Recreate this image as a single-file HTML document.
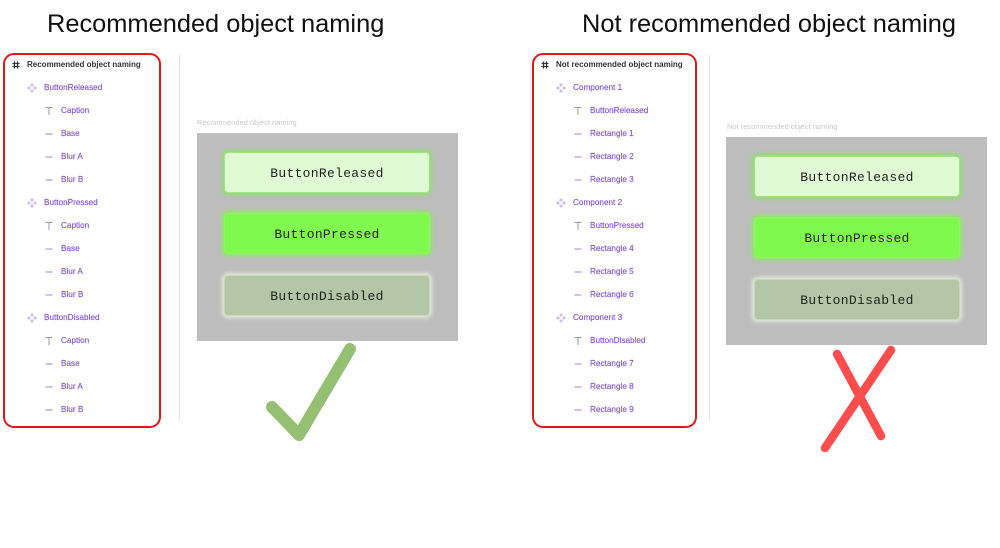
<!DOCTYPE html>
<html><head><meta charset="utf-8">
<style>
html,body{margin:0;padding:0;background:#fff;}
body{width:1000px;height:548px;position:relative;overflow:hidden;font-family:"Liberation Sans",Arial,sans-serif;}
.abs{position:absolute;}
.title{position:absolute;top:7px;font-size:25.4px;color:#111;white-space:nowrap;line-height:34px;}
.panel{position:absolute;border:2.5px solid #e0181b;border-radius:11px;box-sizing:border-box;}
.vline{position:absolute;width:1px;background:#e4e4e4;}
.row{position:absolute;height:12px;line-height:12px;font-size:8.2px;color:#8455d6;white-space:nowrap;-webkit-text-stroke:0.15px #8455d6;}
.hdr{color:#333;font-weight:bold;font-size:8px;-webkit-text-stroke:0;}
.ic{position:absolute;}
.flabel{position:absolute;font-size:7.5px;color:#c8c8c8;white-space:nowrap;}
.frame{position:absolute;background:#bdbdbd;}
.btn{position:absolute;width:206px;height:41px;border-radius:4px;box-sizing:border-box;font-family:"Liberation Mono","DejaVu Sans Mono",monospace;font-size:13px;color:#222;text-align:center;line-height:41px;letter-spacing:0.3px;}
.rel{background:#e0fbd4;border:1.5px solid #9fe87e;box-shadow:0 0 4px 2px rgba(130,235,90,0.75);}
.pre{background:#80f94e;border:1.5px solid #8ff566;box-shadow:0 0 4px 2px rgba(130,245,80,0.8);}
.dis{background:#b3c6a6;border:1.5px solid #c9d8bd;box-shadow:0 0 4px 2px rgba(235,245,225,0.85);}
</style></head><body>

<div class="title" style="left:47px;">Recommended object naming</div>
<div class="title" style="left:582px;">Not recommended object naming</div>

<!-- Left panel -->
<div class="panel" style="left:3px;top:53px;width:158px;height:375px;"></div>
<div class="vline" style="left:179px;top:55px;height:366px;"></div>

<!-- Right panel -->
<div class="panel" style="left:532px;top:53px;width:165px;height:375px;"></div>
<div class="vline" style="left:709px;top:55px;height:366px;"></div>

<svg class="abs" style="left:0;top:0;" width="1000" height="548" xmlns="http://www.w3.org/2000/svg">
  <defs>
    <g id="hash" stroke="#333" stroke-width="1.2">
      <line x1="-1.5" y1="-3.5" x2="-1.5" y2="3.5"/><line x1="1.5" y1="-3.5" x2="1.5" y2="3.5"/>
      <line x1="-3.5" y1="-1.5" x2="3.5" y2="-1.5"/><line x1="-3.5" y1="1.5" x2="3.5" y2="1.5"/>
    </g>
    <g id="comp" fill="#cdbfe9">
      <path d="M0,-5 L2,-3 L0,-1 L-2,-3Z"/>
      <path d="M0,5 L2,3 L0,1 L-2,3Z"/>
      <path d="M-5,0 L-3,-2 L-1,0 L-3,2Z"/>
      <path d="M5,0 L3,-2 L1,0 L3,2Z"/>
    </g>
    <g id="tt" stroke="#9a9a9a" stroke-width="1" fill="none">
      <line x1="-3.5" y1="-3.5" x2="3.5" y2="-3.5"/><line x1="0" y1="-3.5" x2="0" y2="4"/>
    </g>
    <g id="dash"><rect x="-3.5" y="-0.8" width="7" height="1.6" fill="#c2b4e4"/></g>
  </defs>
  <!-- left icons -->
  <use href="#hash" x="16" y="65"/>
  <use href="#comp" x="32" y="88"/><use href="#tt" x="49" y="111"/><use href="#dash" x="49" y="134"/><use href="#dash" x="49" y="157"/><use href="#dash" x="49" y="180"/>
  <use href="#comp" x="32" y="203"/><use href="#tt" x="49" y="226"/><use href="#dash" x="49" y="249"/><use href="#dash" x="49" y="272"/><use href="#dash" x="49" y="295"/>
  <use href="#comp" x="32" y="318"/><use href="#tt" x="49" y="341"/><use href="#dash" x="49" y="364"/><use href="#dash" x="49" y="387"/><use href="#dash" x="49" y="410"/>
  <!-- right icons -->
  <use href="#hash" x="545" y="65"/>
  <use href="#comp" x="561" y="88"/><use href="#tt" x="578" y="111"/><use href="#dash" x="578" y="134"/><use href="#dash" x="578" y="157"/><use href="#dash" x="578" y="180"/>
  <use href="#comp" x="561" y="203"/><use href="#tt" x="578" y="226"/><use href="#dash" x="578" y="249"/><use href="#dash" x="578" y="272"/><use href="#dash" x="578" y="295"/>
  <use href="#comp" x="561" y="318"/><use href="#tt" x="578" y="341"/><use href="#dash" x="578" y="364"/><use href="#dash" x="578" y="387"/><use href="#dash" x="578" y="410"/>

  <!-- check mark -->
  <path d="M272,407 L299,435 L350,349" fill="none" stroke="#95bf72" stroke-width="12" stroke-linecap="round" stroke-linejoin="round"/>
  <!-- X mark -->
  <path d="M837,354 L881,436 M891,350 L825,448" fill="none" stroke="#ff4c4c" stroke-width="8.5" stroke-linecap="round"/>
</svg>

<!-- left rows -->
<div class="row hdr" style="left:27px;top:59px;">Recommended object naming</div>
<div class="row" style="left:44px;top:82px;">ButtonReleased</div>
<div class="row" style="left:61px;top:105px;">Caption</div>
<div class="row" style="left:61px;top:128px;">Base</div>
<div class="row" style="left:61px;top:151px;">Blur A</div>
<div class="row" style="left:61px;top:174px;">Blur B</div>
<div class="row" style="left:44px;top:197px;">ButtonPressed</div>
<div class="row" style="left:61px;top:220px;">Caption</div>
<div class="row" style="left:61px;top:243px;">Base</div>
<div class="row" style="left:61px;top:266px;">Blur A</div>
<div class="row" style="left:61px;top:289px;">Blur B</div>
<div class="row" style="left:44px;top:312px;">ButtonDisabled</div>
<div class="row" style="left:61px;top:335px;">Caption</div>
<div class="row" style="left:61px;top:358px;">Base</div>
<div class="row" style="left:61px;top:381px;">Blur A</div>
<div class="row" style="left:61px;top:404px;">Blur B</div>

<!-- right rows -->
<div class="row hdr" style="left:556px;top:59px;">Not recommended object naming</div>
<div class="row" style="left:573px;top:82px;">Component 1</div>
<div class="row" style="left:590px;top:105px;">ButtonReleased</div>
<div class="row" style="left:590px;top:128px;">Rectangle 1</div>
<div class="row" style="left:590px;top:151px;">Rectangle 2</div>
<div class="row" style="left:590px;top:174px;">Rectangle 3</div>
<div class="row" style="left:573px;top:197px;">Component 2</div>
<div class="row" style="left:590px;top:220px;">ButtonPressed</div>
<div class="row" style="left:590px;top:243px;">Rectangle 4</div>
<div class="row" style="left:590px;top:266px;">Rectangle 5</div>
<div class="row" style="left:590px;top:289px;">Rectangle 6</div>
<div class="row" style="left:573px;top:312px;">Component 3</div>
<div class="row" style="left:590px;top:335px;">ButtonDisabled</div>
<div class="row" style="left:590px;top:358px;">Rectangle 7</div>
<div class="row" style="left:590px;top:381px;">Rectangle 8</div>
<div class="row" style="left:590px;top:404px;">Rectangle 9</div>

<!-- left frame -->
<div class="flabel" style="left:197px;top:118px;">Recommended object naming</div>
<div class="frame" style="left:197px;top:133px;width:261px;height:208px;"></div>
<div class="btn rel" style="left:224px;top:152px;">ButtonReleased</div>
<div class="btn pre" style="left:224px;top:213px;">ButtonPressed</div>
<div class="btn dis" style="left:224px;top:275px;">ButtonDisabled</div>

<!-- right frame -->
<div class="flabel" style="left:727px;top:122px;">Not recommended object naming</div>
<div class="frame" style="left:726px;top:137px;width:261px;height:208px;"></div>
<div class="btn rel" style="left:754px;top:156px;">ButtonReleased</div>
<div class="btn pre" style="left:754px;top:217px;">ButtonPressed</div>
<div class="btn dis" style="left:754px;top:279px;">ButtonDisabled</div>

</body></html>
